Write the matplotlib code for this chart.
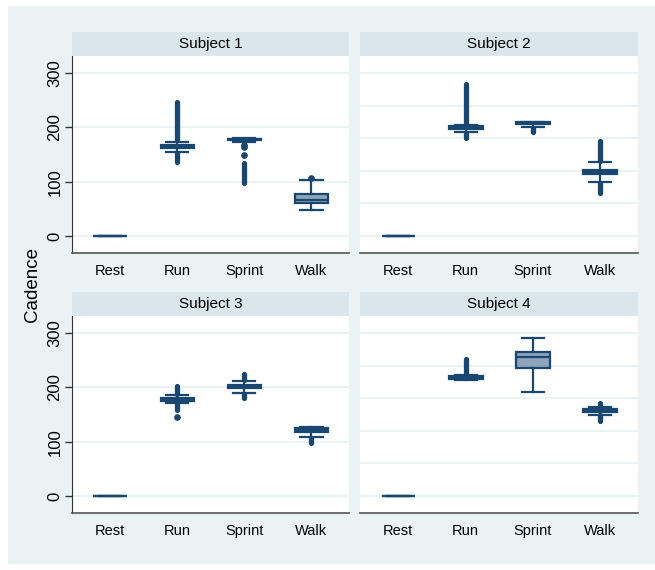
import matplotlib.pyplot as plt
from matplotlib.patches import Rectangle

plt.rcParams['font.family'] = ['Liberation Sans', 'DejaVu Sans']

# categories and panels
cats = ['Rest', 'Run', 'Sprint', 'Walk']
subjects = ['Subject 1', 'Subject 2', 'Subject 3', 'Subject 4']

# box statistics (one row per subject)
medians = [[0, 164, 178, 67], [0, 200, 208, 118], [0, 178, 201, 121], [0, 218, 255, 157]]
q1 = [[0, 162, 176, 60], [0, 197, 206, 114], [0, 175, 199, 118], [0, 216, 235, 155]]
q3 = [[0, 167, 179, 77], [0, 202, 210, 122], [0, 181, 204, 125], [0, 221, 264, 160]]
whislo = [[0, 155, 173, 48], [0, 192, 200, 99], [0, 171, 189, 109], [0, 214, 192, 150]]
whishi = [[0, 173, 180, 104], [0, 205, 210, 136], [0, 186, 212, 127], [0, 223, 290, 163]]

# single outliers
out_points = [
    [[], [], [168, 163, 149], [106]],
    [[], [], [], []],
    [[], [145], [], []],
    [[], [], [], []],
]
# dense runs of outliers (low, high)
out_bands = [
    [[], [(137, 152), (176, 246)], [(97, 134)], []],
    [[], [(180, 190), (207, 280)], [(191, 198)], [(79, 97), (138, 175)]],
    [[], [(158, 169), (188, 203)], [(181, 187), (214, 225)], [(98, 107)]],
    [[], [(224, 252)], [], [(138, 149), (164, 172)]],
]

navy = '#1a476f'
boxfill = '#8ea4bb'
bg = '#eaf2f3'
strip = '#d9e6eb'

fig = plt.figure(figsize=(6.55, 5.70), dpi=100)
fig.patches.append(Rectangle((8 / 655, 1 - 564 / 570), 647 / 655, 558 / 570,
                             transform=fig.transFigure, facecolor=bg,
                             edgecolor='none', zorder=-10))

W, H = 655, 570
panel_x = [(72, 349), (360, 638)]
panel_y = [(56, 253), (316, 513)]

for k in range(4):
    r, c = divmod(k, 2)
    x0, x1 = panel_x[c]
    y0, y1 = panel_y[r]
    ax = fig.add_axes([x0 / W, 1 - y1 / H, (x1 - x0) / W, (y1 - y0) / H])
    ax.set_facecolor('white')

    # strip header
    fig.patches.append(Rectangle((x0 / W, 1 - y0 / H), (x1 - x0) / W, 24 / H,
                                 transform=fig.transFigure, facecolor=strip,
                                 edgecolor='none'))
    fig.text((x0 + x1) / 2 / W, 1 - (y0 - 12) / H, subjects[k],
             ha='center', va='center', fontsize=11)

    stats = []
    for j in range(4):
        stats.append(dict(med=medians[k][j], q1=q1[k][j], q3=q3[k][j],
                          whislo=whislo[k][j], whishi=whishi[k][j],
                          fliers=out_points[k][j], label=cats[j]))
    ax.bxp(stats, positions=[1, 2, 3, 4], widths=0.5, capwidths=0.33,
           patch_artist=True,
           boxprops=dict(facecolor=boxfill, edgecolor=navy, linewidth=1.6),
           medianprops=dict(color=navy, linewidth=1.6),
           whiskerprops=dict(color=navy, linewidth=1.6),
           capprops=dict(color=navy, linewidth=1.6),
           flierprops=dict(marker='o', markerfacecolor=navy, markeredgecolor=navy,
                           markersize=3.8), zorder=3)
    for j in range(4):
        for lo, hi in out_bands[k][j]:
            ax.vlines(j + 1, lo, hi, color=navy, linewidth=3.8,
                      capstyle='round', zorder=4)

    ax.set_xlim(0.43, 4.56)
    ax.set_ylim(-31, 331)
    ax.set_xticks([1, 2, 3, 4])
    ax.set_xticklabels(cats, fontsize=10.5)
    ax.tick_params(axis='x', length=0, pad=8)

    if c == 0:
        grid = [0, 100, 200, 300]
        ax.set_yticks(grid)
        ax.set_yticklabels([str(v) for v in grid], rotation=90, va='center',
                           fontsize=12)
        ax.tick_params(axis='y', length=5, width=1, color='#333333', pad=2)
        ax.spines['left'].set_color('#333333')
    else:
        grid = [0, 60, 120, 180, 240, 300]
        ax.set_yticks(grid)
        ax.set_yticklabels([])
        ax.tick_params(axis='y', length=0)
        ax.spines['left'].set_visible(False)
    for g in grid:
        ax.axhline(g, color=bg, linewidth=1.6, zorder=1)

    ax.spines['top'].set_visible(False)
    ax.spines['right'].set_visible(False)
    ax.spines['bottom'].set_color('#555555')
    ax.spines['bottom'].set_linewidth(1.2)

fig.text(32 / W, 1 - 285 / H, 'Cadence', rotation=90, ha='center', va='center',
         fontsize=13.5)

fig.savefig('out.png', dpi=100)
